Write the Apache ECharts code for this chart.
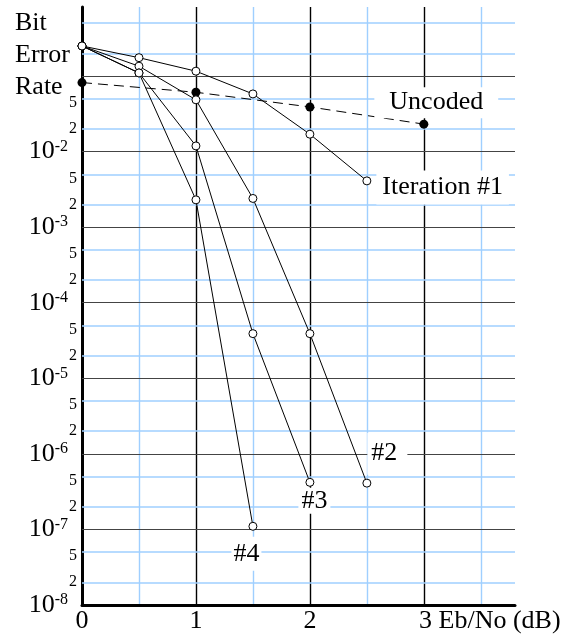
<!DOCTYPE html>
<html>
<head>
<meta charset="utf-8">
<script src="https://cdn.jsdelivr.net/npm/echarts@6/dist/echarts.min.js"></script>
<style>
  html, body { margin: 0; padding: 0; background: #fff; }
  #chart { width: 570px; height: 636px; }
</style>
</head>
<body>
<div id="chart"></div>
<script>
// Eb/No (dB) for the coded curves and the uncoded reference
var ebno = [0, 0.5, 1, 1.5, 2, 2.5];
var ebnoUncoded = [0, 1, 2, 3];

// bit error rate
var berUncoded = [0.082, 0.061, 0.039, 0.0231];
var berIter1 = [0.25, 0.175, 0.116, 0.058, 0.017, 0.0041];
var berIter2 = [0.25, 0.135, 0.0485, 0.0024, 3.9e-5, 4.1e-7];
var berIter3 = [0.25, 0.11, 0.0119, 3.9e-5, 4.2e-7];
var berIter4 = [0.25, 0.11, 0.0023, 1.1e-7];

// axis labels
var xTickValues = [0, 1, 2, 3];
var xTickLabels = ['0', '1', '2', '3 Eb/No (dB)'];
var decadeExps = [-1, -2, -3, -4, -5, -6, -7, -8];
var labelledExps = [-2, -3, -4, -5, -6, -7, -8];
var minorMults = [2, 5];

var FONT = 'Liberation Serif';
var BLUE = '#9fcfff';

function pairs(xs, ys) {
  return xs.map(function (x, i) { return [x, ys[i]]; });
}

// white-boxed annotation on the last point of a curve
function withEndLabel(points, text, dx, dy, pad) {
  var data = points.map(function (p) { return p.slice(); });
  var last = data.length - 1;
  data[last] = {
    value: points[last],
    label: {
      show: true,
      formatter: text,
      position: [dx + 4, dy + 4],
      align: 'left',
      verticalAlign: 'middle',
      color: '#000',
      fontSize: 26,
      fontFamily: FONT,
      backgroundColor: '#fff',
      padding: pad
    }
  };
  return data;
}

function curve(name, data, filled) {
  return {
    name: name,
    type: 'line',
    z: 3,
    data: data,
    symbol: 'circle',
    symbolSize: filled ? 9 : 8,
    showAllSymbol: true,
    itemStyle: filled ? { color: '#000' } : { color: '#fff', borderColor: '#000', borderWidth: 1 },
    lineStyle: { color: '#000', width: 1, type: filled ? [10, 6] : 'solid' },
    emphasis: { disabled: true },
    silent: true,
    animation: false
  };
}

// horizontal grid: decades in black, 2 and 5 in blue
var gridLines = [];
decadeExps.forEach(function (e) {
  var show = labelledExps.indexOf(e) >= 0;
  gridLines.push({
    yAxis: Math.pow(10, e),
    lineStyle: { color: e === -8 ? 'rgba(0,0,0,0)' : '#444', width: 1, type: 'solid' },
    label: { show: show, position: 'start', distance: 14, formatter: '{b|10}{s|' + e + '}' }
  });
  minorMults.forEach(function (m) {
    gridLines.push({
      yAxis: m * Math.pow(10, e),
      lineStyle: { color: BLUE, width: 1.5, type: 'solid' },
      label: { show: show, position: 'start', distance: 5, formatter: '{' + (m === 5 ? 'f' : 't') + '|' + m + '}' }
    });
  });
});

var uncoded = curve('Uncoded', withEndLabel(pairs(ebnoUncoded, berUncoded), 'Uncoded', -49, -21, [3, 15, 2, 15]), true);
uncoded.z = 2;
uncoded.markLine = {
  z: 1,
  silent: true,
  precision: 12,
  symbol: ['none', 'none'],
  animation: false,
  label: {
    color: '#000',
    fontFamily: FONT,
    rich: {
      b: { fontSize: 26, fontFamily: FONT, color: '#000', lineHeight: 26, verticalAlign: 'bottom' },
      s: { fontSize: 16, fontFamily: FONT, color: '#000', lineHeight: 16, verticalAlign: 'top', padding: [0, 0, 4, 0] },
      f: { fontSize: 16, fontFamily: FONT, color: '#000', padding: [8, 0, 0, 0] },
      t: { fontSize: 16, fontFamily: FONT, color: '#000' }
    }
  },
  emphasis: { disabled: true },
  data: gridLines
};

var chart = echarts.init(document.getElementById('chart'));
chart.setOption({
  animation: false,
  backgroundColor: '#fff',
  textStyle: { fontFamily: FONT },
  title: {
    text: 'Bit\nError\nRate',
    left: 15,
    top: 7,
    padding: 0,
    textStyle: { fontSize: 26, fontWeight: 'normal', fontFamily: FONT, lineHeight: 32, color: '#000' }
  },
  grid: { left: 82, right: 55, top: 7, bottom: 31, containLabel: false },
  xAxis: {
    type: 'value',
    min: 0,
    max: 3.8,
    interval: 0.5,
    axisLine: { onZero: false, lineStyle: { color: '#000', width: 3 } },
    axisTick: { show: false },
    splitLine: { show: true, showMaxLine: false, lineStyle: { color: ['#000', BLUE], width: 1.4 } },
    axisLabel: {
      margin: 3,
      color: '#000',
      fontSize: 26,
      fontFamily: FONT,
      formatter: function (v) {
        var i = xTickValues.indexOf(v);
        if (i < 0) return '';
        if (i === xTickValues.length - 1) return '{e|' + xTickLabels[i] + '}';
        return xTickLabels[i];
      },
      rich: { e: { fontSize: 26, fontFamily: FONT, color: '#000', padding: [0, 0, 0, 132] } }
    }
  },
  yAxis: {
    type: 'log',
    logBase: 10,
    min: 1e-8,
    max: 0.82,
    axisLine: { onZero: false, lineStyle: { color: '#000', width: 3 } },
    axisTick: { show: false },
    axisLabel: { show: false },
    splitLine: { show: false }
  },
  series: [
    uncoded,
    curve('Iteration #1', withEndLabel(pairs(ebno, berIter1), 'Iteration #1', 10, 7, [4, 6, 4, 6])),
    curve('#2', withEndLabel(pairs(ebno, berIter2), '#2', 1, -29, [8, 10, 8, 4])),
    curve('#3', withEndLabel(pairs(ebno.slice(0, 5), berIter3), '#3', -11, 19, [0, 3, 0, 3])),
    curve('#4', withEndLabel(pairs(ebno.slice(0, 4), berIter4), '#4', -21, 28, [4, 2, 4, 2]))
  ]
});
</script>
</body>
</html>
